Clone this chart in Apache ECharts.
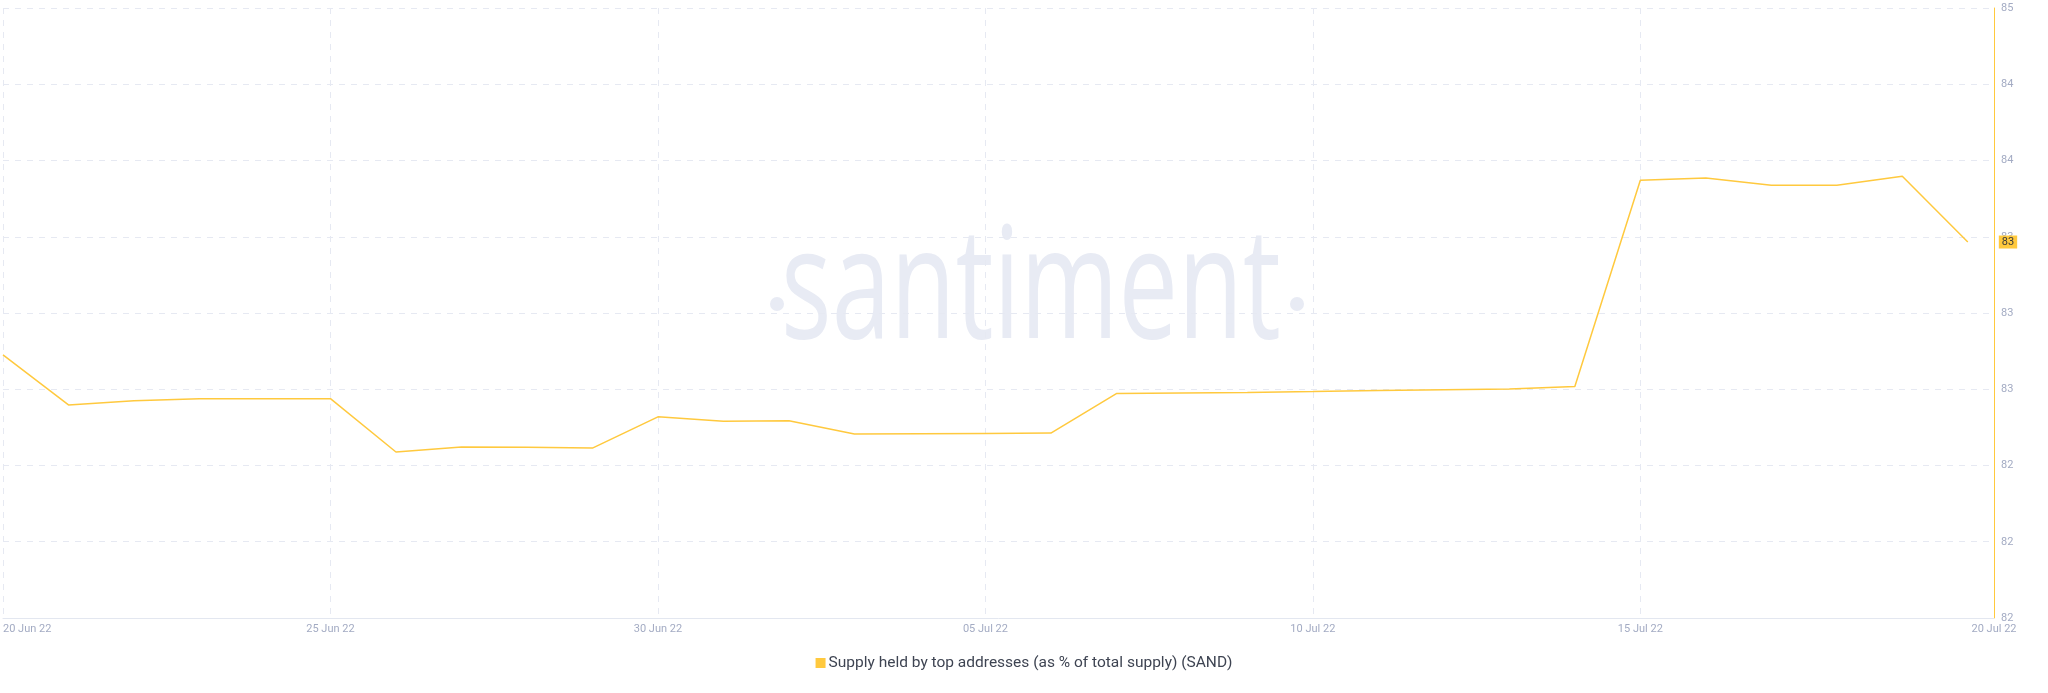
<!DOCTYPE html>
<html><head><meta charset="utf-8">
<script src="https://cdn.jsdelivr.net/npm/echarts@6/dist/echarts.min.js"></script>
<style>html,body{margin:0;padding:0;background:#fff}#c{width:2048px;height:693px}</style>
</head><body><div id="c"></div>
<script>
const dates = ['20 Jun 22','21 Jun 22','22 Jun 22','23 Jun 22','24 Jun 22','25 Jun 22','26 Jun 22','27 Jun 22','28 Jun 22','29 Jun 22','30 Jun 22',
  '01 Jul 22','02 Jul 22','03 Jul 22','04 Jul 22','05 Jul 22','06 Jul 22','07 Jul 22','08 Jul 22','09 Jul 22','10 Jul 22',
  '11 Jul 22','12 Jul 22','13 Jul 22','14 Jul 22','15 Jul 22','16 Jul 22','17 Jul 22','18 Jul 22','19 Jul 22','20 Jul 22'];
const values = [82.856, 82.600, 82.621, 82.631, 82.632, 82.632, 82.359, 82.385, 82.383, 82.379, 82.539,
  82.516, 82.519, 82.451, 82.452, 82.454, 82.456, 82.658, 82.661, 82.664, 82.668,
  82.673, 82.677, 82.681, 82.694, 83.749, 83.761, 83.723, 83.723, 83.769, 83.433];
const xTickLabels = ['20 Jun 22','25 Jun 22','30 Jun 22','05 Jul 22','10 Jul 22','15 Jul 22','20 Jul 22'];
const yTickLabels = ['82','82','82','83','83','83','84','84','85'];
const seriesName = 'Supply held by top addresses (as % of total supply) (SAND)';

const chart = echarts.init(document.getElementById('c'));
const data = values.map((v, i) => [i, v]);
const xMax = 30.4;
const gridColor = '#e6e9f2';
const labelColor = '#a3abc3';
const wmColor = '#e8ebf4';
const xSplitColors = [gridColor, gridColor, gridColor, gridColor, gridColor, gridColor, 'rgba(0,0,0,0)', 'rgba(0,0,0,0)'];

chart.setOption({
  animation: false,
  backgroundColor: '#fff',
  graphic: [
    { type: 'text', x: 1031, y: 372, z: -10, scaleX: 0.68,
      style: { text: 'santiment', fill: wmColor, font: '400 156px "Open Sans"', textAlign: 'center', textVerticalAlign: 'bottom' } },
    { type: 'circle', z: -10, shape: { cx: 777, cy: 304, r: 7 }, style: { fill: wmColor } },
    { type: 'circle', z: -10, shape: { cx: 1297, cy: 304, r: 7 }, style: { fill: wmColor } }
  ],
  grid: { left: 0, right: 54, top: 8, bottom: 75 },
  legend: {
    bottom: 17, left: 'center', icon: 'rect', itemWidth: 10, itemHeight: 10, itemGap: 10,
    textStyle: { color: '#3e4452', fontSize: 15.5, fontFamily: 'Roboto', padding: [0, 0, 0, -2] },
    data: [seriesName]
  },
  xAxis: {
    type: 'value', min: 0, max: xMax, interval: 5,
    axisLine: { show: true, onZero: false, lineStyle: { color: '#e3e7f0', width: 1 } },
    axisTick: { show: false },
    splitLine: { show: true, lineStyle: { color: xSplitColors, type: [6, 6], width: 1 } },
    axisLabel: {
      color: labelColor, fontSize: 11, fontFamily: 'Roboto', margin: 6,
      alignMinLabel: 'left', alignMaxLabel: 'center', showMaxLabel: true, showMinLabel: true,
      formatter: (v, i) => {
        if (Math.abs(v - xMax) < 1e-6) return xTickLabels[xTickLabels.length - 1];
        if (i < xTickLabels.length - 1) return xTickLabels[i];
        return '';
      }
    }
  },
  yAxis: {
    type: 'value', position: 'right', min: 81.51, max: 84.63, interval: 0.39,
    axisLine: { show: true, onZero: false, lineStyle: { color: '#ffc93e', width: 1 } },
    axisTick: { show: false },
    splitLine: { show: true, lineStyle: { color: gridColor, type: [6, 6], width: 1 } },
    axisLabel: {
      color: labelColor, fontSize: 11, fontFamily: 'Roboto', margin: 7,
      formatter: (v, i) => yTickLabels[i]
    }
  },
  series: [{
    name: seriesName, type: 'line', data: data, showSymbol: false, symbol: 'none',
    itemStyle: { color: '#ffc93e' },
    lineStyle: { color: '#ffc93e', width: 1.5 },
    endLabel: {
      show: true, distance: 31, formatter: p => Math.round(p.value[1]),
      backgroundColor: '#ffc93e', color: '#3a3a3a', fontSize: 11, fontFamily: 'Roboto', padding: [1, 3]
    }
  }]
});
</script></body></html>
